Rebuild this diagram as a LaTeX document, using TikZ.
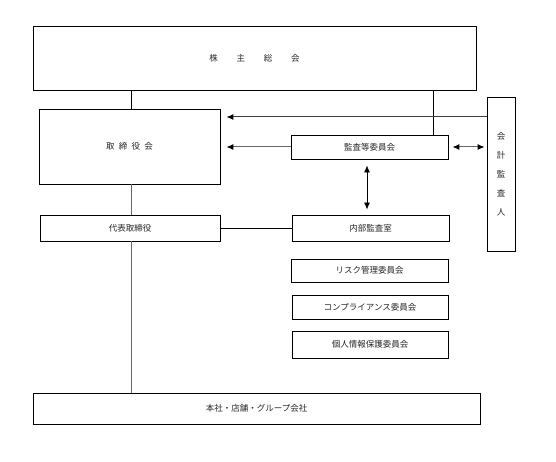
\documentclass[tikz,border=0pt]{standalone}
\usepackage{fontspec}
\newfontfamily\jp{Noto Sans CJK JP}
\usetikzlibrary{arrows.meta}
\begin{document}
\begin{tikzpicture}[x=1pt,y=-1pt,
  box/.style={draw,line width=0.9pt,inner sep=0pt,font=\jp\fontsize{8.5}{10}\selectfont,text=black!85},
  ln/.style={line width=0.8pt},
  gln/.style={line width=1pt,draw=black!60},
  arr/.style={-{Latex[length=7pt,width=6pt,color=black]}},
  darr/.style={{Latex[length=7pt,width=6pt,color=black]}-{Latex[length=7pt,width=6pt,color=black]}}]
\useasboundingbox (0,0) rectangle (556,462);
\fill[white] (0,0) rectangle (556,462);
\node[box,minimum width=443pt,minimum height=64pt] (gm) at (254.5,58) {株\hspace{2.2em}主\hspace{2.2em}総\hspace{2.2em}会};
\node[box,minimum width=181pt,minimum height=75pt] (bd) at (129.5,146.5) {取\hspace{0.5em}締\hspace{0.5em}役\hspace{0.5em}会};
\node[box,minimum width=180pt,minimum height=26pt] (rep) at (130,228) {代表取締役};
\node[box,minimum width=157pt,minimum height=24pt] (ac) at (369.5,147) {監査等委員会};
\node[box,minimum width=157pt,minimum height=26pt] (ia) at (370.5,228) {内部監査室};
\node[box,minimum width=28pt,minimum height=154pt,align=center] (ea) at (501,174) {会\\[9pt]計\\[9pt]監\\[9pt]査\\[9pt]人};
\node[box,minimum width=157pt,minimum height=23pt] (risk) at (369.5,270.5) {リスク管理委員会};
\node[box,minimum width=156pt,minimum height=24pt] (comp) at (370,307) {コンプライアンス委員会};
\node[box,minimum width=156pt,minimum height=27pt] (priv) at (370,344.5) {個人情報保護委員会};
\node[box,minimum width=447pt,minimum height=31pt] (hq) at (256.5,408.5) {本社・店舗・グループ会社};
% connectors
\draw[ln] (gm.south -| 131,0) -- (bd.north -| 131,0);
\draw[ln] (gm.south -| 433,0) -- (ac.north -| 433,0);
\draw[gln,draw=black!75,arr] (ea.west |- 0,117) -- ([xshift=6pt]bd.east |- 0,117);
\draw[gln,arr] (ac.west) -- ([xshift=6pt]bd.east |- ac.west);
\draw[gln,darr] ([xshift=4pt]ac.east) -- ([xshift=-2pt]ea.west |- ac.east);
\draw[ln,darr] ([yshift=-6pt]ac.south -| 367,0) -- ([yshift=5pt]ia.north -| 367,0);
\draw[ln] (rep.east) -- (ia.west);
\draw[gln] (bd.south -| 131,0) -- (rep.north -| 131,0);
\draw[gln] (rep.south -| 131,0) -- (hq.north -| 131,0);
\end{tikzpicture}
\end{document}
